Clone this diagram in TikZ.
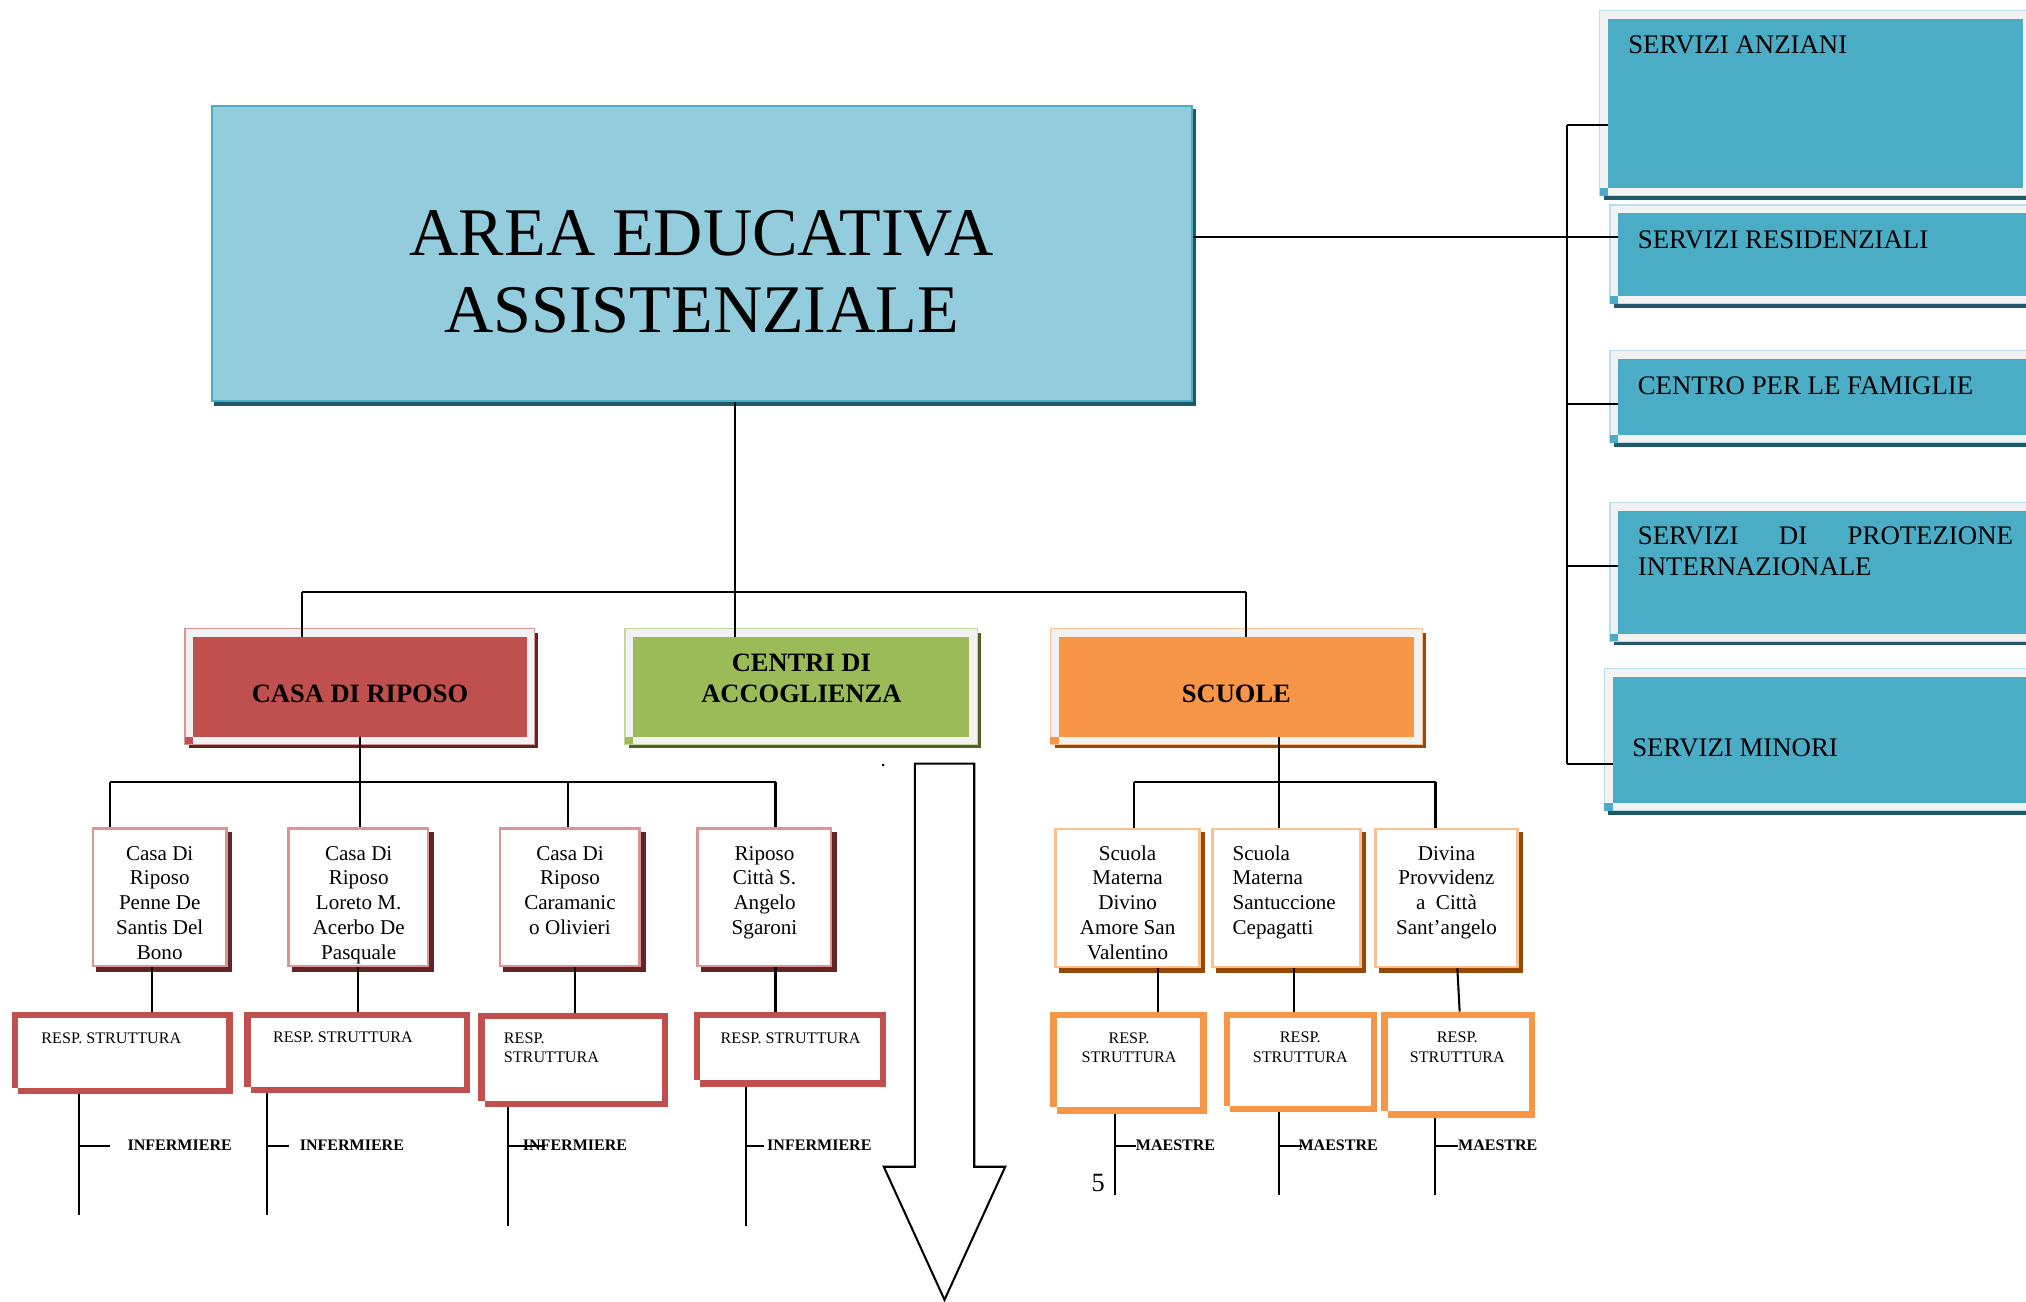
\documentclass[tikz,border=0pt]{standalone}
\usepackage{fontspec}
\setmainfont{Liberation Serif}
\usetikzlibrary{fit}
\definecolor{mainfill}{HTML}{93CDDD}
\definecolor{mainedge}{HTML}{4BACC6}
\definecolor{bluefill}{HTML}{4BACC6}
\definecolor{bluedark}{HTML}{215968}
\definecolor{blueedge}{HTML}{B7DEE8}
\definecolor{redfill}{HTML}{C0504D}
\definecolor{reddark}{HTML}{632523}
\definecolor{rededge}{HTML}{D99694}
\definecolor{greenfill}{HTML}{9BBB59}
\definecolor{greendark}{HTML}{4F6228}
\definecolor{greenedge}{HTML}{C3D69B}
\definecolor{orangefill}{HTML}{F79646}
\definecolor{orangedark}{HTML}{984807}
\definecolor{orangeedge}{HTML}{FAC090}
\definecolor{framegray}{HTML}{F2F2F2}
\newcommand\TopR{\rule{0pt}{1em}}
\newcommand\fsTitle{\fontsize{15pt}{16.8pt}\selectfont}
\newcommand\fsLab{\fontsize{5.83pt}{6.83pt}\selectfont\bfseries}
\newcommand\fsSvc{\fontsize{5.9pt}{6.77pt}\selectfont}
\newcommand\fsSub{\fontsize{4.64pt}{5.46pt}\selectfont}
\newcommand\fsResp{\fontsize{3.55pt}{4.24pt}\selectfont}
\newcommand\fsInf{\fontsize{3.53pt}{4.2pt}\selectfont\bfseries}
% framed 3D box: name, x1, y1 (frame top-left), x2, y2 (fill bottom-right), fill, edge, dark
\newcommand\ObBox[8]{%
  \fill[#8] (#2+3.2,#3+3.4) rectangle (#4+9,#5+9.1);
  \filldraw[fill=framegray, draw=#7, line width=0.25pt] (#2,#3) rectangle (#4+6,#5+6);
  \fill[#6] (#2,#5) rectangle (#2+6.4,#5+6);
  \node[fit={(#2+6.4,#3+6.4) (#4,#5)}, inner sep=0pt, outer sep=0pt, fill=#6] (#1) {};
}
% white box with shadow: name, x1,y1,x2,y2 (outer edges), border, shadow
\newcommand\SubBox[7]{%
  \fill[#7] (#2+3.5,#3+3.5) rectangle (#4+3.5,#5+3.5);
  \node[fit={(#2+1,#3+1) (#4-1,#5-1)}, inner sep=0pt, draw=#6, line width=0.57pt, fill=white] (#1) {};
}
% thick frame: name, x1,y1,x2,y2 (outer edges), colour
\newcommand\RespBox[6]{%
  \node[fit={(#2+2.5,#3+2.5) (#4-2.5,#5-2.5)}, inner sep=0pt, draw=#6, line width=1.42pt] (#1) {};
  \fill[white] (#2,#5) rectangle (#2+5,#5-5);
}
\begin{document}
\begin{tikzpicture}[x=0.01cm,y=-0.01cm,
  txt/.style={inner sep=0pt,outer sep=0pt},
  conn/.style={draw=black,line width=0.45pt}]
\useasboundingbox (0,0) rectangle (1568,1007);
\clip (0,0) rectangle (1568,1007);

% ---------- main box ----------
\fill[bluedark] (166,84) rectangle (926,314);
\node[fit={(163.75,81.75) (922.25,310.25)}, inner sep=0pt, fill=mainfill, draw=mainedge, line width=0.43pt] (main) {};
\node[txt, align=center, anchor=north, font=\fsTitle] (mainT) at (543,145.3) {\TopR AREA EDUCATIVA\\ASSISTENZIALE};

% ---------- right column ----------
\ObBox{anz}{1238}{8}{1566}{145.5}{bluefill}{blueedge}{bluedark}
\ObBox{res}{1246}{158.7}{1575}{229}{bluefill}{blueedge}{bluedark}
\ObBox{fam}{1246}{271.6}{1575}{336.8}{bluefill}{blueedge}{bluedark}
\ObBox{pro}{1246}{389}{1575}{490.4}{bluefill}{blueedge}{bluedark}
\ObBox{min}{1241.6}{517.5}{1575}{621.5}{bluefill}{blueedge}{bluedark}
\node[txt, anchor=base west, font=\fsSvc] (anzT) at (1260.2,41.5) {SERVIZI ANZIANI};
\node[txt, anchor=base west, font=\fsSvc] (resT) at (1267.6,192) {SERVIZI RESIDENZIALI};
\node[txt, anchor=base west, font=\fsSvc] (famT) at (1267.6,305.3) {CENTRO PER LE FAMIGLIE};
\node[txt, align=left, anchor=north west, font=\fsSvc] (proT) at (1267.6,400.5)
  {\makebox[82.57pt][s]{\TopR SERVIZI\hfill DI\hfill PROTEZIONE}\\INTERNAZIONALE};
\node[txt, anchor=base west, font=\fsSvc] (minT) at (1263.3,585.5) {SERVIZI MINORI};

% bracket
\coordinate (bT) at (1213,96.6);
\coordinate (bR) at (1213,183.5);
\coordinate (bF) at (1213,312.6);
\coordinate (bP) at (1213,438.2);
\coordinate (bB) at (1213,591);
\draw[conn] (bT) -- (bB);
\draw[conn] (bT) -- (bT -| anz.west);
\draw[conn] (main.east |- bR) -- (bR -| res.west);
\draw[conn] (bF) -- (bF -| fam.west);
\draw[conn] (bP) -- (bP -| pro.west);
\draw[conn] (bB) -- (bB -| min.west);

% ---------- level 2 ----------
\ObBox{casa}{143.2}{486.3}{407.6}{570.1}{redfill}{rededge}{reddark}
\ObBox{centri}{483.7}{486.3}{750.3}{570.1}{greenfill}{greenedge}{greendark}
\ObBox{scuole}{813}{486.3}{1094.7}{570.1}{orangefill}{orangeedge}{orangedark}
\node[txt, anchor=base, font=\fsLab] (casaT) at (278.6,543.6) {CASA DI RIPOSO};
\node[txt, align=center, anchor=north, font=\fsLab] (centriT) at (620.2,499.2) {\TopR CENTRI DI\\ACCOGLIENZA};
\node[txt, anchor=base, font=\fsLab] (scuoleT) at (956.9,543.6) {SCUOLE};

\coordinate (j0) at (569,458);
\coordinate (hL) at (233.5,458);
\coordinate (hR) at (964,458);
\draw[line width=0.35pt] (main.south -| j0) -- (j0);
\draw[conn] (hL) -- (hR);
\draw[conn] (hL) -- (hL |- casa.north);
\draw[conn] (j0) -- (j0 |- centri.north);
\draw[conn] (hR) -- (hR |- scuole.north);

% ---------- casa di riposo branch ----------
\SubBox{c1}{71}{640.3}{176.2}{748.6}{rededge}{reddark}
\SubBox{c2}{222.2}{640.3}{332.2}{748.6}{rededge}{reddark}
\SubBox{c3}{386}{640.3}{496.1}{748.6}{rededge}{reddark}
\SubBox{c4}{539}{640.3}{644.2}{748.6}{rededge}{reddark}
\node[txt, align=center, anchor=north, font=\fsSub] (c1T) at (123.6,649.4) {\TopR Casa Di\\Riposo\\Penne De\\Santis Del\\Bono};
\node[txt, align=center, anchor=north, font=\fsSub] (c2T) at (277.6,649.4) {\TopR Casa Di\\Riposo\\Loreto M.\\Acerbo De\\Pasquale};
\node[txt, align=center, anchor=north, font=\fsSub] (c3T) at (441.1,649.4) {\TopR Casa Di\\Riposo\\Caramanic\\o Olivieri};
\node[txt, align=center, anchor=north, font=\fsSub] (c4T) at (591.7,649.4) {\TopR Riposo\\Città S.\\Angelo\\Sgaroni};

\coordinate (k0) at (278.6,605);
\coordinate (kL) at (84.9,605);
\coordinate (k3) at (439.3,605);
\coordinate (kR) at (600.2,605);
\draw[conn] (casa.south) -- (k0);
\draw[conn] (kL) -- (kR);
\draw[conn] (kL) -- (kL |- c1.north);
\draw[conn] (k0) -- (k0 |- c2.north);
\draw[conn] (k3) -- (k3 |- c3.north);
\draw[conn] (kR) -- (kR |- c4.north);

\RespBox{r1}{9}{783}{180}{847}{redfill}
\RespBox{r2}{189}{783}{364}{846}{redfill}
\RespBox{r3}{370}{784}{517}{857}{redfill}
\RespBox{r4}{537}{783}{686}{841}{redfill}
\node[txt, anchor=base west, font=\fsResp] (r1T) at (32.1,807.4) {RESP. STRUTTURA};
\node[txt, anchor=base west, font=\fsResp] (r2T) at (211.3,806.8) {RESP. STRUTTURA};
\node[txt, align=left, anchor=north west, font=\fsResp] (r3T) at (390,794.9) {\TopR RESP.\\STRUTTURA};
\node[txt, anchor=base west, font=\fsResp] (r4T) at (557.8,807.4) {RESP. STRUTTURA};

\coordinate (q1) at (117.5,760);
\coordinate (q2) at (277.4,760);
\coordinate (q3) at (444.7,760);
\coordinate (q4) at (600.2,760);
\draw[conn] (c1.south -| q1) -- (r1.north -| q1);
\draw[conn] (c2.south -| q2) -- (r2.north -| q2);
\draw[conn] (c3.south -| q3) -- (r3.north -| q3);
\draw[conn] (c4.south -| q4) -- (r4.north -| q4);

% infermiere
\coordinate (i1b) at (61.2,940);
\coordinate (i2b) at (207,940);
\coordinate (i3b) at (393.5,949);
\coordinate (i4b) at (577.5,949);
\coordinate (i1t) at (84.9,886.6);
\coordinate (i2t) at (223.6,886.6);
\coordinate (i3t) at (422,886.6);
\coordinate (i4t) at (591.4,886.6);
\draw[conn] (r1.south -| i1b) -- (i1b);
\draw[conn] (r2.south -| i2b) -- (i2b);
\draw[conn] (r3.south -| i3b) -- (i3b);
\draw[conn] (r4.south -| i4b) -- (i4b);
\draw[conn] (i1t -| i1b) -- (i1t);
\draw[conn] (i2t -| i2b) -- (i2t);
\draw[conn] (i3t -| i3b) -- (i3t);
\draw[conn] (i4t -| i4b) -- (i4t);
\node[txt, anchor=base west, font=\fsInf] (inf1) at (98.7,890.4) {INFERMIERE};
\node[txt, anchor=base west, font=\fsInf] (inf2) at (232,890.4) {INFERMIERE};
\node[txt, anchor=base west, font=\fsInf] (inf3) at (404.7,890.4) {INFERMIERE};
\node[txt, anchor=base west, font=\fsInf] (inf4) at (593.8,890.4) {INFERMIERE};

% ---------- block arrow ----------
\draw[line width=0.45pt, fill=white] (708,591) -- (754,591) -- (754,903) -- (778,903) -- (731,1006) -- (684,903) -- (708,903) -- cycle;
\node[txt, anchor=base, font=\fsSub] (dot) at (683.6,593) {.};

% ---------- scuole branch ----------
\SubBox{s1}{816}{640.6}{929.4}{749.4}{orangeedge}{orangedark}
\SubBox{s2}{937.3}{640.6}{1053.9}{749.4}{orangeedge}{orangedark}
\SubBox{s3}{1063.6}{640.6}{1175.3}{749.4}{orangeedge}{orangedark}
\node[txt, align=center, anchor=north, font=\fsSub] (s1T) at (872.7,649.4) {\TopR Scuola\\Materna\\Divino\\Amore San\\Valentino};
\node[txt, align=left, anchor=north west, font=\fsSub] (s2T) at (954,649.4) {\TopR Scuola\\Materna\\Santuccione\\Cepagatti};
\node[txt, align=center, anchor=north, font=\fsSub] (s3T) at (1119.5,649.4) {\TopR Divina\\Provvidenz\\a\ \ Città\\Sant’angelo};

\coordinate (u0) at (989.9,605);
\coordinate (uL) at (878,605);
\coordinate (uR) at (1111,605);
\draw[conn] (scuole.south -| u0) -- (u0);
\draw[conn] (uL) -- (uR);
\draw[conn] (uL) -- (uL |- s1.north);
\draw[conn] (u0) -- (u0 |- s2.north);
\draw[conn] (uR) -- (uR |- s3.north);

\RespBox{t1}{813}{783}{934}{862}{orangefill}
\RespBox{t2}{947}{783}{1066}{861}{orangefill}
\RespBox{t3}{1069}{783}{1188}{865}{orangefill}
\node[txt, align=center, anchor=north, font=\fsResp] (t1T) at (873.8,794.9) {\TopR RESP.\\STRUTTURA};
\node[txt, align=center, anchor=north, font=\fsResp] (t2T) at (1006.4,794.6) {\TopR RESP.\\STRUTTURA};
\node[txt, align=center, anchor=north, font=\fsResp] (t3T) at (1127.9,794.6) {\TopR RESP.\\STRUTTURA};

\coordinate (p1) at (896.3,760);
\coordinate (p2) at (1001.4,760);
\coordinate (p3a) at (1127.9,760);
\coordinate (p3b) at (1129.7,760);
\draw[conn] (s1.south -| p1) -- (t1.north -| p1);
\draw[conn] (s2.south -| p2) -- (t2.north -| p2);
\draw[conn] (s3.south -| p3a) -- (t3.north -| p3b);

% maestre
\coordinate (m1b) at (862.8,925);
\coordinate (m2b) at (989.9,925);
\coordinate (m3b) at (1110.4,925);
\coordinate (m1t) at (879.1,886.6);
\coordinate (m2t) at (1007.9,886.6);
\coordinate (m3t) at (1128.5,886.6);
\draw[conn] (t1.south -| m1b) -- (m1b);
\draw[conn] (t2.south -| m2b) -- (m2b);
\draw[conn] (t3.south -| m3b) -- (m3b);
\draw[conn] (m1t -| m1b) -- (m1t);
\draw[conn] (m2t -| m2b) -- (m2t);
\draw[conn] (m3t -| m3b) -- (m3t);
\node[txt, anchor=base west, font=\fsInf] (mae1) at (879.1,890.4) {MAESTRE};
\node[txt, anchor=base west, font=\fsInf] (mae2) at (1005,890.4) {MAESTRE};
\node[txt, anchor=base west, font=\fsInf] (mae3) at (1128.5,890.4) {MAESTRE};
\node[txt, anchor=base, font=\fontsize{5.8pt}{7pt}\selectfont] (pg) at (850,922) {5};
\end{tikzpicture}
\end{document}
